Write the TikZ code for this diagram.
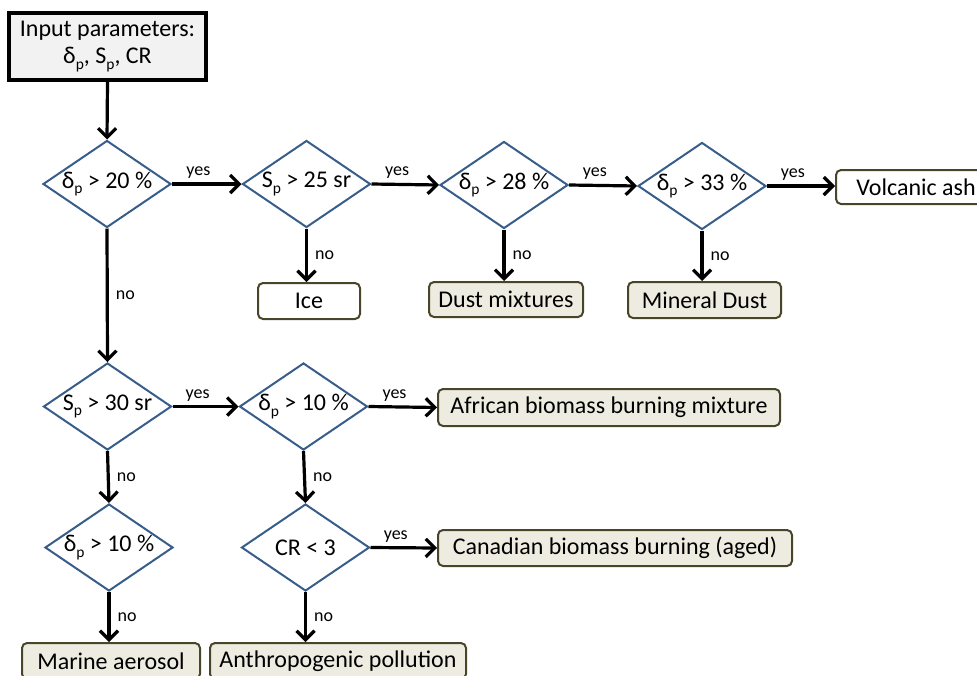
\documentclass[tikz,border=0pt]{standalone}
\usepackage{fontspec}
\setmainfont{Carlito}
\usetikzlibrary{shapes.geometric,arrows.meta}
\definecolor{diacol}{RGB}{56,93,138}
\definecolor{boxcol}{RGB}{73,69,41}
\definecolor{boxfill}{RGB}{238,236,225}
\definecolor{infill}{RGB}{242,242,242}
\newcommand{\sbp}{\raisebox{-0.24em}{\fontsize{15.5}{15.5}\selectfont p}}
\tikzset{
  maintext/.style={font=\fontsize{24}{28}\selectfont},
  decision/.style={maintext, diamond, draw=diacol, line width=2pt, fill=white,
    shape aspect=1.47, inner sep=0pt, minimum width=128pt, minimum height=87pt},
  result/.style={maintext, rectangle, rounded corners=5pt, draw=boxcol, line width=2pt,
    fill=boxfill, inner sep=0pt, minimum height=36pt},
  whiteresult/.style={result, fill=white},
  inputbox/.style={maintext, rectangle, draw=black, line width=3.8pt, fill=infill,
    inner sep=0pt, minimum width=197pt, minimum height=67pt, align=center},
  arr/.style={line width=3.2pt, -{Straight Barb[length=9pt,width=18pt]}},
  lab/.style={font=\fontsize{18}{20}\selectfont, inner sep=1pt},
}
\begin{document}
\begin{tikzpicture}[x=1pt,y=-1pt]
\useasboundingbox (0,0) rectangle (977,675);
\begin{scope}
\clip (0,0) rectangle (977,675);
% nodes
\node[inputbox] (in) at (107.5,46.5) {Input parameters:\\[-1pt]δ\sbp, S\sbp, CR};
\node[decision] (d1) at (107,184) {δ\sbp{} > 20 \%};
\node[decision] (d2) at (306.5,184) {S\sbp{} > 25 sr};
\node[decision] (d3) at (504,185) {δ\sbp{} > 28 \%};
\node[decision] (d4) at (702,186) {δ\sbp{} > 33 \%};
\node[whiteresult, minimum width=160pt, minimum height=34pt] (volc) at (916,187) {Volcanic ash\hspace{26pt}};
\node[whiteresult, minimum width=102pt] (ice) at (309,301) {Ice};
\node[result, minimum width=154pt, minimum height=35pt] (dmix) at (506,299.5) {Dust mixtures};
\node[result, minimum width=153pt] (mdust) at (704.5,300) {Mineral Dust};
\node[decision] (d5) at (107.5,406.5) {S\sbp{} > 30 sr};
\node[decision] (d6) at (303.5,406.5) {δ\sbp{} > 10 \%};
\node[result, minimum width=342pt, minimum height=37pt] (afr) at (609,407.5) {African biomass burning mixture};
\node[decision] (d7) at (109,547.5) {δ\sbp{} > 10 \%};
\node[decision] (d8) at (305.5,547.5) {CR < 3};
\node[result, minimum width=354pt] (can) at (615,548) {Canadian biomass burning (aged)};
\node[result, minimum width=178pt] (mar) at (111,661) {Marine aerosol};
\node[result, minimum width=256pt] (ant) at (338,661) {Anthropogenic pollution};
% connectors
\draw[arr] (in.south) -- (d1.north);
\draw[arr] (d1.east) -- node[lab, pos=0.38, above=3pt] {yes} (d2.west);
\draw[arr] (d2.east) -- node[lab, pos=0.38, above=3pt] {yes} (d3.west);
\draw[arr] (d3.east) -- node[lab, pos=0.38, above=3pt] {yes} (d4.west);
\draw[arr] (d4.east) -- node[lab, pos=0.38, above=3pt] {yes} (d4.east -| volc.west);
\draw[arr] (d1.south) -- node[lab, midway, right=6pt] {no} (d5.north);
\draw[arr] (d2.south) -- node[lab, midway, right=6pt] {no} (d2.south |- ice.north);
\draw[arr] (d3.south) -- node[lab, midway, right=6pt] {no} (d3.south |- dmix.north);
\draw[arr] (d4.south) -- node[lab, midway, right=6pt] {no} (d4.south |- mdust.north);
\draw[arr] (d5.east) -- node[lab, pos=0.38, above=3pt] {yes} (d6.west);
\draw[arr] (d6.east) -- node[lab, pos=0.38, above=3pt] {yes} (afr.west);
\draw[arr] (d5.south) -- node[lab, midway, right=6pt] {no} (d7.north);
\draw[arr] (d6.south) -- node[lab, midway, right=6pt] {no} (d8.north);
\draw[arr] (d8.east) -- node[lab, pos=0.38, above=3pt] {yes} (can.west);
\draw[arr] (d7.south) -- node[lab, midway, right=6pt] {no} (d7.south |- mar.north);
\draw[arr] (d8.south) -- node[lab, midway, right=6pt] {no} (d8.south |- ant.north);
\end{scope}
\end{tikzpicture}
\end{document}
